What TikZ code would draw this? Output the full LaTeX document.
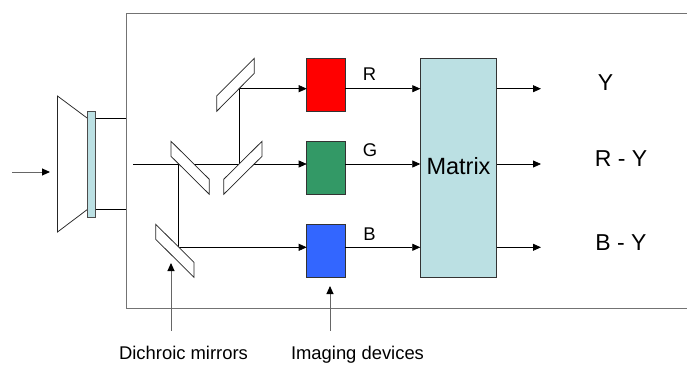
\documentclass[tikz,border=0pt]{standalone}
\usepackage{fontspec}
\setmainfont{Liberation Sans}
\usetikzlibrary{arrows.meta}
\definecolor{teal1}{HTML}{BBE0E3}
\definecolor{grn}{HTML}{339966}
\definecolor{blu}{HTML}{3366FF}
\tikzset{
  x=1pt,y=-1pt,
  wire/.style={draw=black,line width=0.75pt},
  arr/.style={wire,-{Triangle[length=8pt,width=7pt]}},
  ptr/.style={draw=black!60,line width=0.9pt,-{Triangle[length=8pt,width=7pt,color=black]}},
  frameline/.style={draw=black!55,line width=1pt},
  mirror/.style={draw=black!85,line width=0.75pt,fill=white,line join=miter},
  box/.style={draw=black!80,line width=0.8pt,minimum width=38.6pt,minimum height=53.4pt,inner sep=0pt,outer sep=0pt},
  lbl/.style={inner sep=0pt,outer sep=0pt,text=black,anchor=base},
}
\begin{document}
\begin{tikzpicture}
\useasboundingbox (0,0) rectangle (687,364);
% frame
\draw[frameline] (687,13) -- (126,13) -- (126,308) -- (687,308);
% rows
\coordinate (rowR) at (0,88.7);
\coordinate (rowG) at (0,164);
\coordinate (rowB) at (0,247.3);
% devices
\node[box,fill=red] (devR) at (326,84.8) {};
\node[box,fill=grn] (devG) at (326,167.9) {};
\node[box,fill=blu] (devB) at (326,251.1) {};
\node[box,fill=teal1,minimum width=76.4pt,minimum height=219.5pt,font=\fontsize{23.5}{26}\selectfont,text height=16.8pt,text depth=4.4pt] (matrix) at (458.5,167.8) {Matrix};
% lens
\draw[draw=black!85,line width=0.75pt,fill=white] (88,118.7) -- (57.5,96) -- (57.5,232) -- (88,209);
\node[draw=black!70,line width=0.9pt,fill=teal1,minimum width=7.6pt,minimum height=106pt,inner sep=0pt,outer sep=0pt] (bar) at (91.7,164) {};
\coordinate (inA) at (12,172);
\coordinate (inB) at (50,172);
\draw[ptr] (inA) -- (inB);
\coordinate (fT) at (126,118.7);
\coordinate (fB) at (126,209);
\draw[wire] (bar.east |- fT) -- (fT);
\draw[wire] (bar.east |- fB) -- (fB);
% optical paths
\coordinate (start) at (133,164);
\coordinate (j1) at (178.7,164);
\coordinate (j2) at (178.7,247.3);
\coordinate (j3) at (239,164);
\coordinate (j4) at (239,88.7);
\draw[arr] (start) -- (devG.west |- rowG);
\draw[wire] (j1) -- (j2);
\draw[wire] (j3) -- (j4);
\draw[arr] (j2) -- (devB.west |- rowB);
\draw[arr] (j4) -- (devR.west |- rowR);
% mirrors
\draw[mirror] (216.7,96) -- (254.3,58.3) -- (254.3,73.3) -- (216.7,111.3) -- cycle;
\draw[mirror] (171,141.3) -- (209.3,179.3) -- (209.3,194.3) -- (171,156.3) -- cycle;
\draw[mirror] (262,141.3) -- (262,156.3) -- (223.7,194.3) -- (223.7,179.3) -- cycle;
\draw[mirror] (155.7,224.3) -- (194,262.3) -- (194,277.3) -- (155.7,239.3) -- cycle;
% device to matrix
\draw[arr] (devR.east |- rowR) -- (matrix.west |- rowR);
\draw[arr] (devG.east |- rowG) -- (matrix.west |- rowG);
\draw[arr] (devB.east |- rowB) -- (matrix.west |- rowB);
% outputs
\coordinate (oR) at (541,88.7);
\coordinate (oG) at (541,164);
\coordinate (oB) at (541,247.3);
\draw[arr] (matrix.east |- rowR) -- (oR);
\draw[arr] (matrix.east |- rowG) -- (oG);
\draw[arr] (matrix.east |- rowB) -- (oB);
% labels
\node[lbl,font=\fontsize{18.4}{20}\selectfont] (lR) at (369.5,80.7) {R};
\node[lbl,font=\fontsize{18.4}{20}\selectfont] (lG) at (370,156.7) {G};
\node[lbl,font=\fontsize{18.4}{20}\selectfont] (lB) at (369.5,240) {B};
\node[lbl,font=\fontsize{23}{26}\selectfont] (oY) at (605.5,90.7) {Y};
\node[lbl,font=\fontsize{23}{26}\selectfont] (oRY) at (621,166.3) {R - Y};
\node[lbl,font=\fontsize{23}{26}\selectfont] (oBY) at (621,250) {B - Y};
% captions
\node[lbl,font=\fontsize{18.4}{20}\selectfont] (cD) at (183.5,359.3) {Dichroic mirrors};
\node[lbl,font=\fontsize{18.4}{20}\selectfont] (cI) at (357.5,359.3) {Imaging devices};
\coordinate (pD) at (171,330.5);
\coordinate (pDt) at (171,263);
\coordinate (pI) at (330,330.5);
\coordinate (pIt) at (330,286);
\draw[ptr] (pD) -- (pDt);
\draw[ptr] (pI) -- (pIt);
\end{tikzpicture}
\end{document}
